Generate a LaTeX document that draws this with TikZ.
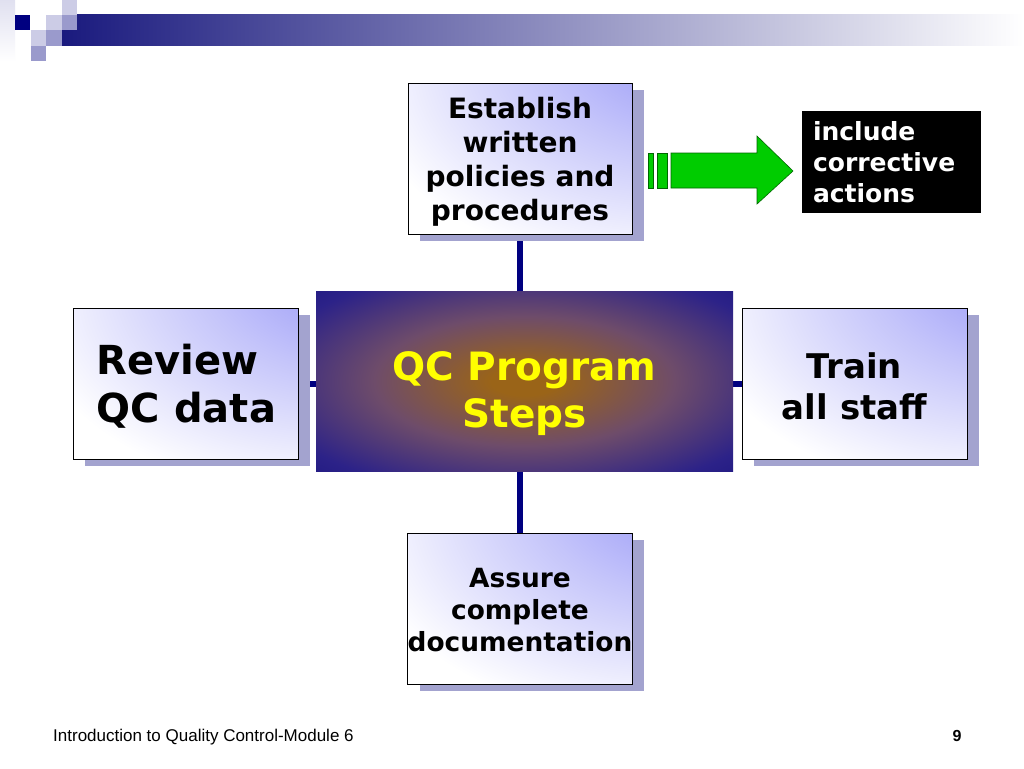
\documentclass[tikz,border=0pt]{standalone}
\usepackage{fontspec}
\setmainfont{DejaVu Sans}
\newfontfamily\footfont{Liberation Sans}
\usetikzlibrary{shadows,backgrounds}

\definecolor{qcnavy}{HTML}{000080}
\definecolor{barnavy}{HTML}{1A1A7E}
\definecolor{bargrey}{HTML}{B0B0C4}
\definecolor{sqlight}{HTML}{CCCCE6}
\definecolor{sqmid}{HTML}{9A9ACC}
\definecolor{boxblue}{HTML}{9494F8}
\definecolor{boxhalf}{HTML}{C4C4FA}
\definecolor{shadowc}{HTML}{A3A3CF}
\definecolor{gloworange}{HTML}{9A6418}
\definecolor{glowmauve}{HTML}{6E4C6A}
\definecolor{glowblue}{HTML}{2C2288}
\definecolor{glownavy}{HTML}{17137E}
\definecolor{arrowgreen}{HTML}{00CC00}
\definecolor{qcyellow}{HTML}{FFFF00}

\pgfdeclareradialshading{boxglow}{\pgfpoint{50bp}{50bp}}{color(0bp)=(boxblue); color(12bp)=(boxblue); color(34bp)=(boxhalf); color(64bp)=(white); color(145bp)=(white)}
\pgfdeclareradialshading{qcglow}{\pgfpoint{0bp}{0bp}}{color(0bp)=(gloworange); color(4bp)=(gloworange); color(18bp)=(glowmauve); color(32bp)=(glowblue); color(42bp)=(glownavy); color(75bp)=(glownavy)}

\begin{document}
\begin{tikzpicture}
	[
		x=1pt, y=-1pt,
		% Make a style for the light step boxes.
		stepbox/.style={draw=black, line width=0.8pt, shading=boxglow, inner sep=0pt,
			minimum width=224pt, minimum height=151pt, align=center,
			drop shadow={shadow xshift=12pt, shadow yshift=-7pt, fill=shadowc, opacity=1}},
		% And one for the dark centre box.
		hubbox/.style={shading=qcglow, inner sep=0pt, minimum width=417pt, minimum height=180pt,
			align=center, text=qcyellow},
		% Thick navy links between the boxes.
		link/.style={qcnavy, line width=6pt},
		sq/.style={fill=#1, draw=none}
	]
		\useasboundingbox (0,0) rectangle (1024,768);

		% Title bar
		\shade[top color=sqlight!60!white, bottom color=white] (0,0) rectangle (15,62);
		\shade[left color=barnavy, middle color=bargrey, right color=white] (62,15) rectangle (1024,46);
		\fill[sq=sqlight] (62,0) rectangle (77,15);
		\fill[sq=qcnavy] (15,15) rectangle (30,30);
		\fill[sq=sqlight] (46,15) rectangle (62,30);
		\fill[sq=sqmid] (62,15) rectangle (77,30);
		\fill[sq=sqlight] (31,30) rectangle (46,46);
		\fill[sq=sqmid] (46,30) rectangle (62,46);
		\fill[sq=sqmid] (31,46) rectangle (46,61);

		\node
		[
			stepbox,
			font=\bfseries\fontsize{28pt}{34pt}\selectfont
		] (policy) at (520,158.5) {\rule{0pt}{28.5pt}Establish\\written\\policies and\\ procedures};
		\node
		[
			stepbox,
			minimum width=225pt,
			align=left,
			font=\bfseries\fontsize{40pt}{48pt}\selectfont
		] (review) at (185.5,383.5) {\rule{0pt}{35.5pt}\hspace{2pt}Review\\\hspace{2pt}QC data};
		\node
		[
			stepbox,
			minimum width=225pt,
			font=\bfseries\fontsize{34pt}{41pt}\selectfont
		] (train) at (854.5,383.5) {\rule{0pt}{32pt}Train\\all staff};
		\node
		[
			stepbox,
			font=\bfseries\fontsize{26.4pt}{32pt}\selectfont
		] (assure) at (520,608.5) {\rule{0pt}{22pt}Assure\\complete\\documentation};
		\node
		[
			hubbox,
			font=\bfseries\fontsize{39pt}{47pt}\selectfont
		] (hub) at (524.5,381) {\rule{0pt}{54.5pt}QC Program\\Steps};
		\node
		[
			fill=black, text=white, inner sep=0pt,
			minimum width=179pt, minimum height=102pt,
			align=left, text width=157pt,
			font=\bfseries\fontsize{25pt}{31pt}\selectfont
		] (corrective) at (891.5,162) {include\\corrective\\actions};

		% Green arrow
		\fill[arrowgreen, draw=black!60!green, line width=0.6pt] (648,153) rectangle (653,188);
		\fill[arrowgreen, draw=black!60!green, line width=0.6pt] (657,153) rectangle (667,188);
		\filldraw[fill=arrowgreen, draw=black!60!green, line width=0.6pt]
			(671,153) -- (757,153) -- (757,136) -- (793,171) -- (757,204) -- (757,188) -- (671,188) -- cycle;

		% Draw links
		\begin{scope}[on background layer]
			\fill[white] (0,0) rectangle (1024,768);
			\draw[link] (policy.south) -- (policy.south |- hub.north);
			\draw[link] (assure.north) -- (assure.north |- hub.south);
			\draw[link] (review.east) -- (review.east -| hub.west);
			\draw[link] (train.west) -- (train.west -| hub.east);
		\end{scope}

		\node[anchor=west, inner xsep=0pt, font=\footfont\fontsize{17pt}{20pt}\selectfont] (footer) at (53,737) {Introduction to Quality Control-Module 6};
		\node[font=\footfont\bfseries\fontsize{16pt}{19pt}\selectfont] (pagenum) at (957,736) {9};
	\end{tikzpicture}
\end{document}
